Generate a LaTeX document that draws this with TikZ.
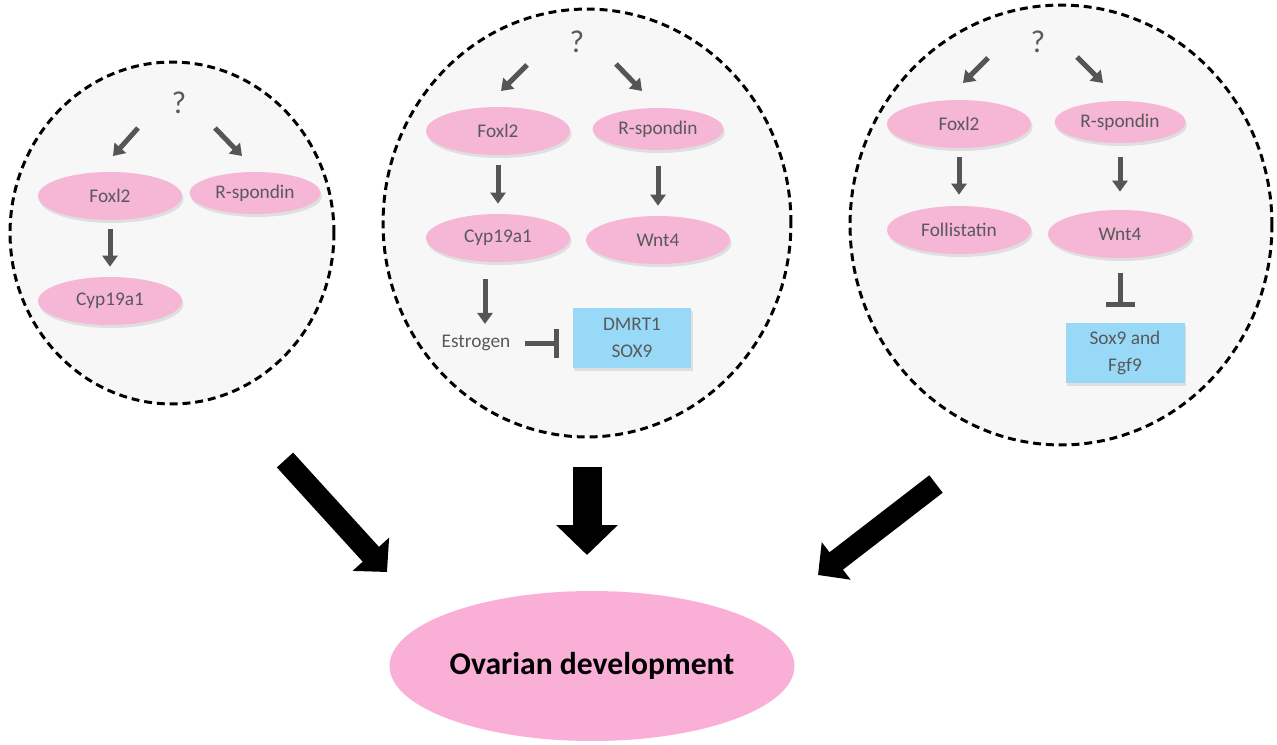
\documentclass[tikz,border=0pt]{standalone}
\usepackage{fontspec}
\setmainfont{Carlito}
\usetikzlibrary{shapes.geometric, arrows.meta, shadows, positioning, calc}

\definecolor{genepink}{RGB}{246,182,214}
\definecolor{ovarypink}{RGB}{250,176,214}
\definecolor{boxblue}{RGB}{153,217,248}
\definecolor{ringgray}{RGB}{247,247,247}
\definecolor{txtgray}{RGB}{89,89,89}
\definecolor{arrgray}{RGB}{85,85,85}

\begin{document}
\begin{tikzpicture}[x=0.02cm, y=-0.02cm]
	\tikzstyle{ring}=[ellipse, draw=black, fill=ringgray, line width=1.7pt, dash pattern=on 4.5pt off 2.8pt];
	\tikzstyle{gene}=[ellipse, fill=genepink, minimum width=2.88cm, minimum height=0.96cm, inner sep=0pt, text=txtgray, font=\fontsize{11}{13}\selectfont, drop shadow={opacity=0.2, shadow xshift=0.03cm, shadow yshift=-0.06cm}];
	\tikzstyle{spondin}=[gene, minimum width=2.62cm, minimum height=0.84cm];
	\tikzstyle{target}=[rectangle, fill=boxblue, minimum width=2.38cm, minimum height=1.2cm, align=center, text=txtgray, font=\fontsize{11}{15}\selectfont, drop shadow={opacity=0.2, shadow xshift=0.03cm, shadow yshift=-0.06cm}];
	\tikzstyle{qmark}=[text=txtgray, font=\fontsize{18}{20}\selectfont, inner sep=0pt];
	\tikzstyle{garrow}=[draw=arrgray, line width=0.1cm, -{Triangle[width=0.3cm, length=0.22cm]}];
	\tikzstyle{inhibit}=[draw=arrgray, line width=0.1cm, -{Bar[width=0.58cm]}];
	\tikzstyle{bigarrow}=[draw=black, line width=0.44cm, -{Triangle[width=0.96cm, length=0.48cm]}];

	\useasboundingbox (0,0) rectangle (1277,744);

	% left circle
	\node[ring, minimum width=6.48cm, minimum height=6.84cm] (c1) at (172,233) {};
	\node[qmark] (q1) at (179,103) {?};
	\node[gene] (foxl1) at (110,196) {Foxl2};
	\node[spondin] (rspo1) at (255,193) {R-spondin};
	\node[gene] (cyp1) at (110,301) {Cyp19a1};
	\coordinate (a1) at (138,128); \coordinate (b1) at (113,156);
	\coordinate (d1) at (215,128); \coordinate (e1) at (242,156);
	\draw[garrow] (a1) -- (b1);
	\draw[garrow] (d1) -- (e1);
	\draw[garrow, shorten <=0.18cm, shorten >=0.2cm] (foxl1) -- (cyp1);

	% middle circle
	\node[ring, minimum width=8.16cm, minimum height=8.56cm] (c2) at (587,223) {};
	\node[qmark] (q2) at (577,42) {?};
	\node[gene] (foxl2) at (498,131) {Foxl2};
	\node[spondin] (rspo2) at (658,129) {R-spondin};
	\node[gene] (cyp2) at (498,238) {Cyp19a1};
	\node[gene] (wnt2) at (658,240) {Wnt4};
	\node[text=txtgray, font=\fontsize{11}{13}\selectfont] (estr) at (476,343) {Estrogen};
	\node[target] (dmrt2) at (632,338) {DMRT1\\SOX9};
	\coordinate (a2) at (527,65); \coordinate (b2) at (501,91);
	\coordinate (d2) at (616,64); \coordinate (e2) at (642,91);
	\draw[garrow] (a2) -- (b2);
	\draw[garrow] (d2) -- (e2);
	\draw[garrow, shorten <=0.2cm, shorten >=0.2cm] (foxl2) -- (cyp2);
	\draw[garrow, shorten <=0.32cm, shorten >=0.2cm] (rspo2) -- (wnt2);
	\draw[garrow, shorten <=0.34cm, shorten >=0.1cm] ([xshift=-0.26cm]cyp2.south) -- ([xshift=-0.26cm]cyp2.south |- estr.north);
	\draw[inhibit, shorten <=0.16cm, shorten >=0.26cm] (estr.east) -- (estr.east -| dmrt2.west);

	% right circle
	\node[ring, minimum width=8.44cm, minimum height=8.8cm] (c3) at (1061,225) {};
	\node[qmark] (q3) at (1038,42) {?};
	\node[gene] (foxl3) at (959,124) {Foxl2};
	\node[spondin] (rspo3) at (1120,122) {R-spondin};
	\node[gene] (foll3) at (959,230) {Follistatin};
	\node[gene] (wnt3) at (1120,234) {Wnt4};
	\node[target] (sox3) at (1125,353) {Sox9 and\\Fgf9};
	\coordinate (a3) at (988,58); \coordinate (b3) at (963,83);
	\coordinate (d3) at (1077,57); \coordinate (e3) at (1103,83);
	\draw[garrow] (a3) -- (b3);
	\draw[garrow] (d3) -- (e3);
	\draw[garrow, shorten <=0.18cm, shorten >=0.22cm] (foxl3) -- (foll3);
	\draw[garrow, shorten <=0.28cm, shorten >=0.36cm] (rspo3) -- (wnt3);
	\draw[inhibit, shorten <=0.3cm, shorten >=0.32cm] (wnt3.south) -- (wnt3.south |- sox3.north);

	% outcome
	\node[ellipse, fill=ovarypink, inner sep=0pt, minimum width=8.1cm, minimum height=3cm, font=\bfseries\fontsize{18}{21}\selectfont] (ovary) at (592,666) {Ovarian development};
	\coordinate (t1) at (285,460); \coordinate (h1) at (387,572);
	\coordinate (t2) at (587,467); \coordinate (h2) at (587,555);
	\coordinate (t3) at (936,484); \coordinate (h3) at (818,575);
	\draw[bigarrow] (t1) -- (h1);
	\draw[bigarrow, line width=0.58cm, -{Triangle[width=1.2cm, length=0.6cm]}] (t2) -- (h2);
	\draw[bigarrow, -{Triangle[width=0.92cm, length=0.46cm]}] (t3) -- (h3);

\end{tikzpicture}
\end{document}
